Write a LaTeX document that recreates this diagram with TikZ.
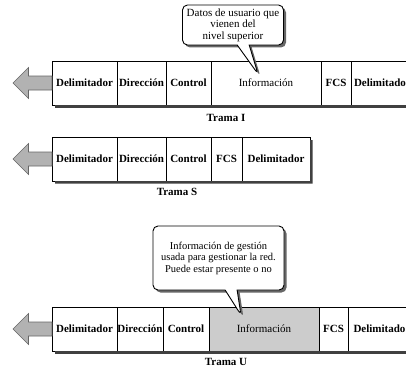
\documentclass[tikz,border=0pt]{standalone}
\usepackage{fontspec}
\setmainfont{Liberation Serif}
\usepackage{tikz}
\usetikzlibrary{positioning,calc,shapes.callouts,shadows}

\begin{document}
\begin{tikzpicture}[x=1pt, y=-1pt, inner sep=0pt,
		campo/.style={rectangle, draw=black, line width=0.6pt, fill=white, outer sep=0pt, minimum height=44pt, anchor=west, font=\fontsize{11}{12}\selectfont\bfseries},
		info/.style={campo, font=\fontsize{11}{12}\selectfont},
		sombra/.style={fill=black!75},
		flecha/.style={fill=gray!60, draw=black!60, line width=0.6pt},
		titulo/.style={font=\fontsize{11}{12}\selectfont\bfseries},
		globo/.style={rectangle callout, draw=black, line width=0.9pt, fill=white, rounded corners=5pt, align=center, callout pointer width=12pt, drop shadow={shadow xshift=2.5pt, shadow yshift=-2.5pt, fill=black!60, opacity=1}}]
			\useasboundingbox (0,0) rectangle (406,369);
			\clip (0,0) rectangle (406,369);

			% Trama I
			\node[campo, minimum width=65pt](dI1) at (52,83) {Delimitador};
			\node[campo, minimum width=49pt, right=0pt of dI1](dI2) {Dirección};
			\node[campo, minimum width=45pt, right=0pt of dI2](dI3) {Control};
			\node[info, minimum width=110pt, right=0pt of dI3](dI4) {Información};
			\node[campo, minimum width=30pt, right=0pt of dI4](dI5) {FCS};
			\node[campo, minimum width=58pt, right=0pt of dI5](dI6) {Delimitado};
			\fill[sombra] ($(dI1.south west)+(3,0)$) rectangle ($(dI6.south east)+(0,2.5)$);
			\node[titulo](tI) at (226,118) {Trama I};

			% Trama S
			\node[campo, minimum width=65pt](dS1) at (52,159) {Delimitador};
			\node[campo, minimum width=49pt, right=0pt of dS1](dS2) {Dirección};
			\node[campo, minimum width=45pt, right=0pt of dS2](dS3) {Control};
			\node[campo, minimum width=31pt, right=0pt of dS3](dS4) {FCS};
			\node[campo, minimum width=68pt, right=0pt of dS4](dS5) {Delimitador};
			\fill[sombra] ($(dS1.south west)+(3,0)$) -- (dS5.south east) -- ($(dS5.north east)+(0,3)$) -- ($(dS5.north east)+(2.5,3)$) -- ($(dS5.south east)+(2.5,2.5)$) -- ($(dS1.south west)+(3,2.5)$) -- cycle;
			\node[titulo](tS) at (177,192) {Trama S};

			% Trama U
			\node[campo, minimum width=65pt](dU1) at (52,329) {Delimitador};
			\node[campo, minimum width=46pt, right=0pt of dU1](dU2) {Dirección};
			\node[campo, minimum width=46pt, right=0pt of dU2](dU3) {Control};
			\node[info, fill=gray!40, minimum width=110pt, right=0pt of dU3](dU4) {Información};
			\node[campo, minimum width=29pt, right=0pt of dU4](dU5) {FCS};
			\node[campo, minimum width=63pt, right=0pt of dU5](dU6) {Delimitado};
			\fill[sombra] ($(dU1.south west)+(3,0)$) rectangle ($(dU6.south east)+(0,2.5)$);
			\node[titulo](tU) at (226,362) {Trama U};

			% flechas
			\foreach \f in {I,S,U}
				\draw[flecha] (d\f1.west) ++(0,-7) -- ++(-23.5,0) -- ++(0,-8.5) -- ++(-15.5,15.5) -- ++(15.5,15.5) -- ++(0,-8.5) -- ++(23.5,0) -- cycle;

			% globos
			\coordinate (pI) at (258,74);
			\coordinate (pU) at (241,315);
			\node[globo, minimum width=101pt, minimum height=40pt, font=\fontsize{11}{11.5}\selectfont, callout absolute pointer={(pI)}](gI) at (233,25) {Datos de usuario que\\vienen del\\nivel superior};
			\node[globo, minimum width=131pt, minimum height=64pt, font=\fontsize{10.5}{11.5}\selectfont, callout absolute pointer={(pU)}](gU) at (218.5,258) {Información de gestión\\usada para gestionar la red.\\Puede estar presente o no};
		\end{tikzpicture}
\end{document}
